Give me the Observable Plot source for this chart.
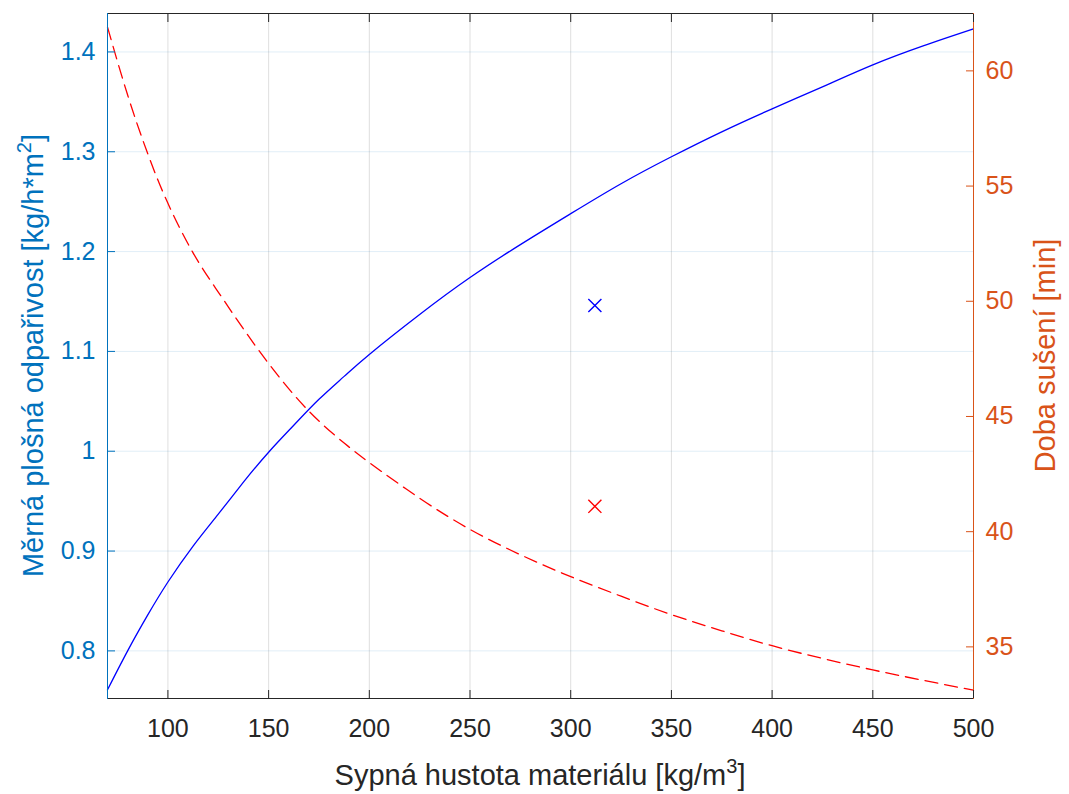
<!DOCTYPE html>
<html><head><meta charset="utf-8">
<script src="https://cdn.jsdelivr.net/npm/d3@7"></script>
<script src="https://cdn.jsdelivr.net/npm/@observablehq/plot@0.6"></script>
<style>body{margin:0;background:#fff;} svg{display:block;}</style>
</head><body><div id="chart"></div>
<script>
// Sypná hustota materiálu [kg/m3]
const density     = [70, 80, 90, 100, 112.5, 125, 137.5, 150, 162.5, 175, 187.5, 200, 225, 250, 275, 300, 325, 350, 375, 400, 425, 450, 475, 500];
// Měrná plošná odpařivost [kg/h*m2] (left axis)
const evaporation = [0.761, 0.800, 0.836, 0.869, 0.905, 0.937, 0.969, 0.999, 1.026, 1.052, 1.075, 1.097, 1.137, 1.174, 1.207, 1.238, 1.268, 1.295, 1.320, 1.343, 1.365, 1.387, 1.406, 1.423];
// Doba sušení [min] (right axis)
const dryingTime  = [61.9, 58.95, 56.4, 54.25, 52.1, 50.4, 48.8, 47.3, 45.95, 44.8, 43.85, 43.0, 41.45, 40.1, 39.0, 38.05, 37.2, 36.4, 35.7, 35.05, 34.5, 34.0, 33.55, 33.12];
// single measured points (×)
const markerDensity = [312];
const markerEvaporation = [1.146];
const markerDryingTime = [41.1];

const xTicks = [100, 150, 200, 250, 300, 350, 400, 450, 500];
const leftTicks = [0.8, 0.9, 1.0, 1.1, 1.2, 1.3, 1.4];
const rightTicks = [35, 40, 45, 50, 55, 60];
const xDomain = [70, 500];
const leftDomain = [0.7523, 1.4385];
const rightDomain = [32.76, 62.49];

const xLabel = "Sypná hustota materiálu [kg/m";
const leftLabel = "Měrná plošná odpařivost [kg/h*m";
const rightLabel = "Doba sušení [min]";

const leftColor = "#0072BD", rightColor = "#D95319", axisColor = "#262626";
const font = "'Liberation Sans', Arial, Helvetica, sans-serif";

// map right-axis values onto the left-axis scale (dual axis)
const r2l = d3.scaleLinear(rightDomain, leftDomain);
const rows = density.map((x, i) => ({x, evap: evaporation[i], time: dryingTime[i]}));
const markers = markerDensity.map((x, i) => ({x, evap: markerEvaporation[i], time: markerDryingTime[i]}));
const rightTicksL = rightTicks.map(r2l);

const W = 1069, H = 794;
const svg = Plot.plot({
  width: W, height: H,
  marginLeft: 107, marginRight: 96, marginTop: 13, marginBottom: 96,
  style: {fontFamily: font, fontSize: "25px", background: "white", color: axisColor},
  x: {domain: xDomain, axis: null},
  y: {domain: leftDomain, axis: null},
  marks: [
    Plot.gridX(xTicks, {stroke: axisColor, strokeOpacity: 0.15}),
    Plot.gridY(leftTicks, {stroke: leftColor, strokeOpacity: 0.12}),
    Plot.line(rows, {x: "x", y: "evap", stroke: "#0000FF", strokeWidth: 1.3, curve: "natural"}),
    Plot.line(rows, {x: "x", y: d => r2l(d.time), stroke: "#FF0000", strokeWidth: 1.3, strokeDasharray: "13,7", curve: "natural"}),
    Plot.dot(markers, {x: "x", y: "evap", symbol: "times", r: 6, stroke: "#0000FF", strokeWidth: 1.4}),
    Plot.dot(markers, {x: "x", y: d => r2l(d.time), symbol: "times", r: 6, stroke: "#FF0000", strokeWidth: 1.4}),
    Plot.frame({anchor: "top", stroke: axisColor}),
    Plot.frame({anchor: "bottom", stroke: axisColor}),
    Plot.frame({anchor: "left", stroke: leftColor}),
    Plot.frame({anchor: "right", stroke: rightColor}),
    Plot.axisX(xTicks, {anchor: "bottom", tickSize: -8, fill: "none", stroke: axisColor, label: null}),
    Plot.axisX(xTicks, {anchor: "top", tickSize: -8, fill: "none", stroke: axisColor, label: null}),
    Plot.axisX(xTicks, {anchor: "bottom", tickSize: 0, tickPadding: 21, fill: axisColor, fontSize: 25, label: null}),
    Plot.axisY(leftTicks, {anchor: "left", tickSize: -8, fill: "none", stroke: leftColor, label: null}),
    Plot.axisY(leftTicks, {anchor: "left", tickSize: 0, tickPadding: 12, fill: leftColor, fontSize: 25, label: null,
      tickFormat: d => String(+d.toFixed(1))}),
    Plot.axisY(rightTicksL, {anchor: "right", tickSize: -8, fill: "none", stroke: rightColor, label: null}),
    Plot.axisY(rightTicksL, {anchor: "right", tickSize: 0, tickPadding: 12, fill: rightColor, fontSize: 25, label: null,
      tickFormat: d => String(Math.round(r2l.invert(d)))})
  ]
});

const s = d3.select(svg);
const LS = 29;
// x label
const tx = s.append("text").attr("x", 540).attr("y", 785).attr("text-anchor", "middle")
  .attr("fill", axisColor).style("font-size", LS + "px").style("font-family", font);
tx.append("tspan").text(xLabel);
tx.append("tspan").attr("dy", -12).style("font-size", "20px").text("3");
tx.append("tspan").attr("dy", 12).text("]");
// left label
const ty = s.append("text").attr("transform", "translate(43,355.5) rotate(-90)").attr("text-anchor", "middle")
  .attr("fill", leftColor).style("font-size", LS + "px").style("font-family", font);
ty.append("tspan").text(leftLabel);
ty.append("tspan").attr("dy", -12).style("font-size", "20px").text("2");
ty.append("tspan").attr("dy", 12).text("]");
// right label
s.append("text").attr("transform", "translate(1055,355.5) rotate(-90)").attr("text-anchor", "middle")
  .attr("fill", rightColor).style("font-size", LS + "px").style("font-family", font).text(rightLabel);

document.getElementById("chart").appendChild(svg);
</script>
</body></html>
